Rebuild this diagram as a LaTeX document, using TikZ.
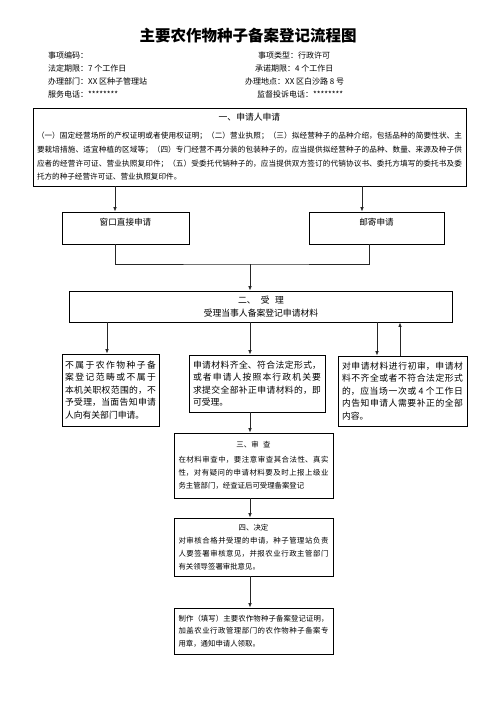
\documentclass[tikz,border=0pt]{standalone}
\usepackage{fontspec}
\setmainfont{Noto Sans CJK SC}
\XeTeXlinebreaklocale "zh"
\XeTeXlinebreakskip=0pt plus 2pt minus 0.3pt
\usetikzlibrary{arrows.meta,positioning}
\tikzset{
  flowline/.style={draw=black!85, line width=0.75pt},
  flowarrow/.style={flowline, -{Latex[length=4.5pt,width=3.6pt]}},
  infotext/.style={anchor=west, inner sep=0pt, font=\fontsize{8}{10}\selectfont}
}

\begin{document}
\begin{tikzpicture}[
  x=1pt, y=-1pt,
  stepbox/.style={draw=black, line width=0.9pt, inner xsep=4pt, inner ysep=0pt, align=justify},
  bigtext/.style={font=\fontsize{8.8}{12.6}\selectfont},
  smalltext/.style={font=\fontsize{7.4}{13}\selectfont}
]
\useasboundingbox (0,0) rectangle (496,702);

% header
\node[font=\fontsize{15.5}{18}\selectfont\bfseries] (title) at (248,36) {主要农作物种子备案登记流程图};
\node[infotext] (code) at (48,55) {事项编码：};
\node[infotext] (kind) at (258,55) {事项类型：行政许可};
\node[infotext] (term) at (48,68) {法定期限：7 个工作日};
\node[infotext] (promise) at (255,68) {承诺期限：4 个工作日};
\node[infotext] (dept) at (48,81) {办理部门：XX 区种子管理站};
\node[infotext] (place) at (245,81) {办理地点：XX 区白沙路 8 号};
\node[infotext] (phone) at (48,94) {服务电话：********};
\node[infotext] (report) at (257,94) {监督投诉电话：********};

% boxes
\node[stepbox, text width=425pt, minimum height=78pt, font=\fontsize{7.6}{13.6}\selectfont] (apply) at (249.5,147)
  {{\centering\fontsize{8.8}{11}\selectfont\mbox{一、申请人申请}\par}\vspace{4.4pt}%
   （一）固定经营场所的产权证明或者使用权证明；（二）营业执照；（三）拟经营种子的品种介绍，包括品种的简要性状、主\linebreak
   要栽培措施、适宜种植的区域等；（四）专门经营不再分装的包装种子的，应当提供拟经营种子的品种、数量、来源及种子供\linebreak
   应者的经营许可证、营业执照复印件；（五）受委托代销种子的，应当提供双方签订的代销协议书、委托方填写的委托书及委\linebreak
   托方的种子经营许可证、营业执照复印件。};

\node[stepbox, align=center, text width=119pt, minimum height=32pt, font=\fontsize{8.6}{12}\selectfont] (win) at (125.5,228) {\mbox{窗口直接申请}\\ \mbox{}};
\node[stepbox, align=center, text width=127pt, minimum height=32pt, font=\fontsize{8.6}{12}\selectfont] (mail) at (376.5,228) {\mbox{邮寄申请}\\ \mbox{}};

\node[stepbox, align=center, text width=375pt, minimum height=31pt, font=\fontsize{8.8}{13}\selectfont] (accept) at (261,306.5)
  {\mbox{二、\hspace{0.6em}受\hspace{0.6em}理}\\ \mbox{受理当事人备案登记申请材料}};

\node[stepbox, bigtext, inner xsep=3pt, text width=91pt, minimum height=72pt] (notok) at (110.5,390)
  {不属于农作物种子备\linebreak 案登记范畴或不属于\linebreak 本机关职权范围的，不\linebreak 予受理，当面告知申请\linebreak 人向有关部门申请。};
\node[stepbox, bigtext, text width=128pt, minimum height=57pt] (ok) at (257,383.5)
  {申请材料齐全、符合法定形式，\linebreak 或者申请人按照本行政机关要\linebreak 求提交全部补正申请材料的，即\linebreak 可受理。};
\node[stepbox, bigtext, text width=121pt, minimum height=70pt] (fix) at (402.5,391)
  {对申请材料进行初审，申请材\linebreak 料不齐全或者不符合法定形式\linebreak 的，应当场一次或 4 个工作日\linebreak 内告知申请人需要补正的全部\linebreak 内容。};

\node[stepbox, smalltext, inner xsep=4.5pt, text width=150pt, minimum height=65pt] (review) at (253.5,465.5)
  {{\centering\mbox{三、审\hspace{0.6em}查}\par}\vspace{1.5pt}%
   在材料审查中，要注意审查其合法性、真实\linebreak 性，对有疑问的申请材料要及时上报上级业\linebreak 务主管部门，经查证后可受理备案登记};
\node[stepbox, smalltext, inner xsep=4.5pt, text width=150pt, minimum height=58pt] (decide) at (253.5,547)
  {{\centering\mbox{四、决定}\par}%
   对审核合格并受理的申请，种子管理站负责\linebreak 人要签署审核意见，并报农业行政主管部门\linebreak 有关领导签署审批意见。};
\node[stepbox, smalltext, inner xsep=4.5pt, text width=150pt, minimum height=46pt, font=\fontsize{7.4}{12.5}\selectfont] (issue) at (253.5,631)
  {制作（填写）主要农作物种子备案登记证明，\linebreak 加盖农业行政管理部门的农作物种子备案专\linebreak 用章，通知申请人领取。};

% connector points
\coordinate (winin) at ([xshift=-10.5pt]win.north);
\coordinate (mailin) at ([xshift=-14.5pt]mail.north);
\coordinate (winout) at ([xshift=-10.5pt]win.south);
\coordinate (mailout) at ([xshift=-7.5pt]mail.south);
\coordinate (merge) at (250,264);
\coordinate (notin) at ([xshift=-3.5pt]notok.north);
\coordinate (fixin) at ([xshift=-25.5pt]fix.north);
\coordinate (fixback) at ([xshift=-2.5pt]fix.north);

\draw[flowarrow] (winin |- apply.south) -- (winin);
\draw[flowarrow] (mailin |- apply.south) -- (mailin);
\draw[flowline] (winout) |- (merge) -| (mailout);
\draw[flowarrow] (merge) -- (merge |- accept.north);
\draw[flowarrow] (notin |- accept.south) -- (notin);
\draw[flowarrow] (merge |- accept.south) -- (merge |- ok.north);
\draw[flowarrow] (fixin |- accept.south) -- (fixin);
\draw[flowarrow] (fixback) -- (fixback |- accept.south);
\draw[flowarrow] (merge |- ok.south) -- (merge |- review.north);
\draw[flowarrow] (merge |- review.south) -- (merge |- decide.north);
\draw[flowarrow] (merge |- decide.south) -- (merge |- issue.north);
\end{tikzpicture}
\end{document}
